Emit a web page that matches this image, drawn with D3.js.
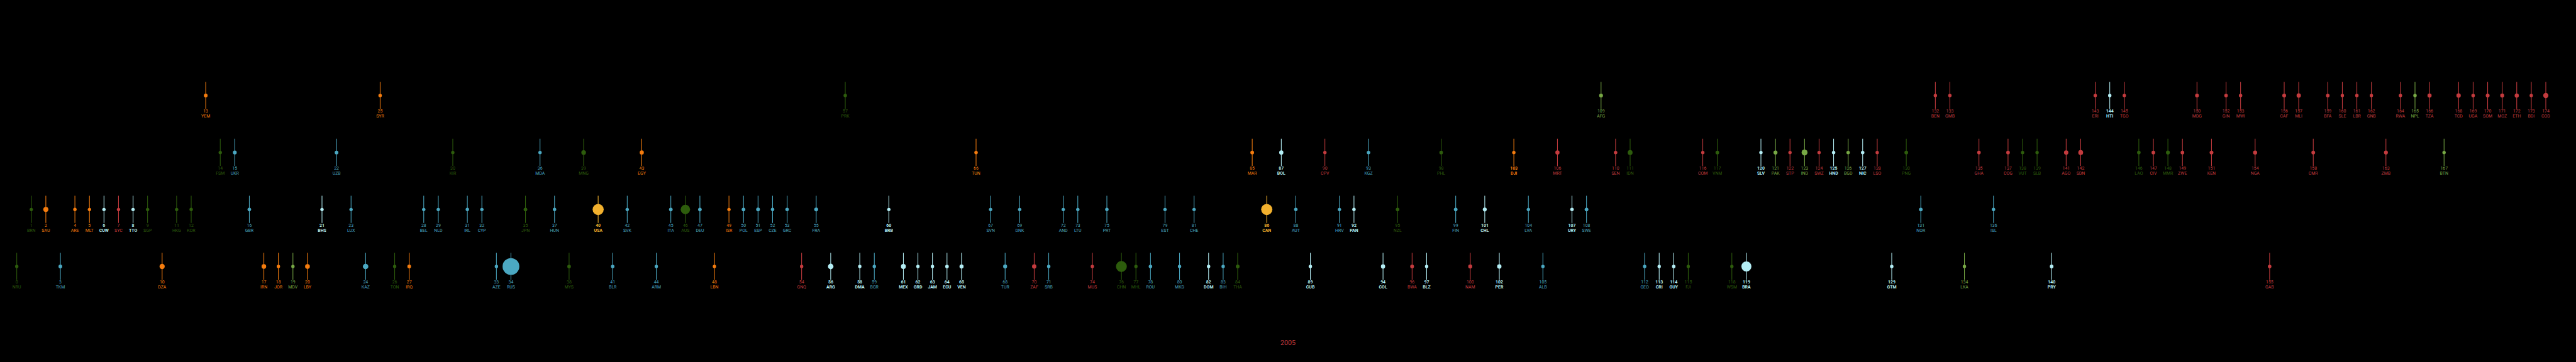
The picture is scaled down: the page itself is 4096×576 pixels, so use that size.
<!DOCTYPE html>
<html>
<head>
<meta charset="utf-8">
<script src="https://cdn.jsdelivr.net/npm/d3@7/dist/d3.min.js"></script>
<style>
  html, body { margin: 0; padding: 0; background: #000; }
  svg { display: block; }
</style>
</head>
<body>
<script>
// ---- DATA (index in arrays = rank label) ----
const codes = ["NRU","BRN","SAU","TKM","ARE","MLT","CUW","SYC","TTO","SGP",
  "DZA","HKG","KOR","YEM","FSM","UKR","GBR","IRN","JOR","MDV",
  "LBY","BHS","UZB","LUX","KAZ","SYR","TON","IRQ","BEL","NLD",
  "KIR","IRL","CYP","AZE","RUS","JPN","MDA","HUN","MYS","MNG",
  "USA","BLR","SVK","EGY","ARM","ITA","AUS","DEU","LBN","ISR",
  "POL","ESP","CZE","GRC","GNQ","FRA","ARG","PRK","DMA","BGR",
  "BRB","MEX","GRD","JAM","ECU","VEN","TUN","SVN","TUR","DNK",
  "ZAF","SRB","AND","LTU","MUS","PRT","CHN","MHL","ROU","EST",
  "MKD","CHE","DOM","BIH","THA","MAR","CAN","BOL","AUT","CUB",
  "CPV","HRV","PAN","KGZ","COL","NZL","BWA","BLZ","PHL","FIN",
  "NAM","CHL","PER","DJI","LVA","ALB","MRT","URY","SWE","AFG",
  "SEN","IDN","GEO","CRI","GUY","FJI","COM","VNM","WSM","BRA",
  "SLV","PAK","STP","IND","SWZ","HND","BGD","NIC","LSO","GTM",
  "PNG","NOR","BEN","GMB","LKA","GHA","ISL","COG","VUT","SLB",
  "PRY","AGO","SDN","ERI","HTI","TGO","LAO","CIV","MMR","ZWE",
  "MDG","KEN","GIN","MWI","NGA","GAB","CAF","MLI","CMR","BFA",
  "SLE","LBR","GNB","ZMB","RWA","NPL","TZA","BTN","TCD","UGA",
  "SOM","MOZ","ETH","BDI","COD"];

// income group: L = low, LM = lower middle, H = high, UM = upper middle
const incomes = ["UM","H","H","UM","H","H","H","H","H","H",
  "UM","H","H","L","LM","LM","H","UM","UM","UM",
  "UM","H","LM","H","UM","L","UM","UM","H","H",
  "LM","H","H","UM","UM","H","LM","H","UM","LM",
  "H","UM","H","LM","UM","H","H","H","UM","H",
  "H","H","H","H","UM","H","UM","L","UM","UM",
  "H","UM","UM","UM","UM","UM","LM","H","UM","H",
  "UM","UM","H","H","UM","H","UM","UM","UM","H",
  "UM","H","UM","UM","UM","LM","H","LM","H","UM",
  "LM","H","H","LM","UM","H","UM","UM","LM","H",
  "UM","H","UM","LM","H","UM","LM","H","H","L",
  "LM","LM","UM","UM","UM","UM","LM","LM","UM","UM",
  "LM","LM","LM","LM","LM","LM","LM","LM","LM","UM",
  "LM","H","L","L","UM","LM","H","LM","LM","LM",
  "UM","LM","LM","L","L","L","LM","LM","LM","LM",
  "L","LM","L","L","LM","UM","L","L","LM","L",
  "L","L","L","LM","L","L","L","LM","L","L",
  "L","L","L","L","L"];

// region: EAP, MNA, LAC, SSA, ECA, SAS, NAC
const regions = ["EAP","EAP","MNA","ECA","MNA","MNA","LAC","SSA","LAC","EAP",
  "MNA","EAP","EAP","MNA","EAP","ECA","ECA","MNA","MNA","SAS",
  "MNA","LAC","ECA","ECA","ECA","MNA","EAP","MNA","ECA","ECA",
  "EAP","ECA","ECA","ECA","ECA","EAP","ECA","ECA","EAP","EAP",
  "NAC","ECA","ECA","MNA","ECA","ECA","EAP","ECA","MNA","MNA",
  "ECA","ECA","ECA","ECA","SSA","ECA","LAC","EAP","LAC","ECA",
  "LAC","LAC","LAC","LAC","LAC","LAC","MNA","ECA","ECA","ECA",
  "SSA","ECA","ECA","ECA","SSA","ECA","EAP","EAP","ECA","ECA",
  "ECA","ECA","LAC","ECA","EAP","MNA","NAC","LAC","ECA","LAC",
  "SSA","ECA","LAC","ECA","LAC","EAP","SSA","LAC","EAP","ECA",
  "SSA","LAC","LAC","MNA","ECA","ECA","SSA","LAC","ECA","SAS",
  "SSA","EAP","ECA","LAC","LAC","EAP","SSA","EAP","EAP","LAC",
  "LAC","SAS","SSA","SAS","SSA","LAC","SAS","LAC","SSA","LAC",
  "EAP","ECA","SSA","SSA","SAS","SSA","ECA","SSA","EAP","EAP",
  "LAC","SSA","SSA","SSA","LAC","SSA","EAP","SSA","EAP","SSA",
  "SSA","SSA","SSA","SSA","SSA","SSA","SSA","SSA","SSA","SSA",
  "SSA","SSA","SSA","SSA","SSA","SAS","SSA","SAS","SSA","SSA",
  "SSA","SSA","SSA","SSA","SSA"];

// land area, million km²
const areas = [0.00002,0.0058,2.15,0.488,0.084,0.0003,0.0004,0.0005,0.0051,0.0007,
  2.382,0.0011,0.100,0.528,0.0007,0.604,0.244,1.648,0.089,0.0003,
  1.760,0.0139,0.449,0.0026,2.725,0.185,0.0008,0.438,0.0305,0.0415,
  0.0008,0.070,0.0093,0.0866,17.10,0.378,0.0338,0.093,0.330,1.564,
  9.83,0.208,0.049,1.010,0.0297,0.301,7.69,0.357,0.0104,0.022,
  0.313,0.506,0.079,0.132,0.028,0.644,2.780,0.1205,0.0008,0.111,
  0.0004,1.964,0.0003,0.011,0.284,0.916,0.164,0.0203,0.784,0.043,
  1.221,0.0775,0.0005,0.065,0.002,0.092,9.60,0.0002,0.238,0.045,
  0.0257,0.041,0.0487,0.051,0.513,0.447,9.98,1.099,0.084,0.110,
  0.004,0.0566,0.0754,0.200,1.142,0.268,0.582,0.023,0.300,0.338,
  0.824,0.756,1.285,0.0232,0.065,0.0287,1.031,0.176,0.450,0.653,
  0.197,1.905,0.070,0.051,0.215,0.0183,0.0022,0.331,0.0028,8.516,
  0.021,0.796,0.001,3.287,0.0174,0.1125,0.148,0.130,0.030,0.109,
  0.463,0.385,0.115,0.0113,0.0656,0.2385,0.103,0.342,0.0122,0.0289,
  0.407,1.247,1.886,0.118,0.028,0.057,0.237,0.3225,0.677,0.391,
  0.587,0.580,0.246,0.1185,0.924,0.268,0.623,1.240,0.475,0.274,
  0.072,0.111,0.036,0.753,0.026,0.147,0.947,0.038,1.284,0.2415,
  0.638,0.802,1.104,0.028,2.345];

const yearLabel = "2005";
const incomeRows = ["L","LM","H","UM"];

// ---- STYLES ----
const regionColor = {
  EAP: "#2d5c0c", MNA: "#f47c0e", LAC: "#b4eef5", SSA: "#c43b3e",
  ECA: "#4ba8c2", SAS: "#77a845", NAC: "#f3b12e"
};
const boldRegions = new Set(["LAC","NAC"]);
const boldCodes = new Set(["DJI"]);
const isBold = d => boldRegions.has(d.region) || boldCodes.has(d.code);

const W = 4096, H = 576, k = 4096 / 7680;

const data = codes.map((c, i) => ({
  rank: i, code: c, income: incomes[i], region: regions[i], area: areas[i]
}));

const svg = d3.select("body").append("svg")
  .attr("width", W).attr("height", H)
  .style("background", "#000");

const x = d3.scalePoint().domain(d3.range(codes.length)).range([50 * k, 7590 * k]);
const y = d3.scalePoint().domain(incomeRows).range([285 * k, 795 * k]);
const r = d3.scaleLinear().domain([0, 17.1]).range([5 * k, 25 * k]);

const g = svg.append("g").selectAll("g.item").data(data).join("g")
  .attr("class", "item")
  .attr("transform", d => `translate(${x(d.rank)},${y(d.income)})`);

g.append("line")
  .attr("x1", 0).attr("x2", 0)
  .attr("y1", -41 * k).attr("y2", 40 * k)
  .attr("stroke", d => regionColor[d.region])
  .attr("stroke-width", 2 * k);

g.append("circle")
  .attr("r", d => r(d.area))
  .attr("fill", d => regionColor[d.region]);

g.append("text")
  .attr("y", 51 * k)
  .attr("text-anchor", "middle")
  .attr("font-family", "Roboto, 'Liberation Sans', sans-serif")
  .attr("font-size", 13 * k)
  .attr("font-weight", d => isBold(d) ? "bold" : "normal")
  .attr("fill", d => regionColor[d.region])
  .text(d => d.rank);

g.append("text")
  .attr("y", 66 * k)
  .attr("text-anchor", "middle")
  .attr("font-family", "Roboto, 'Liberation Sans', sans-serif")
  .attr("font-size", 13 * k)
  .attr("font-weight", d => isBold(d) ? "bold" : "normal")
  .attr("fill", d => regionColor[d.region])
  .text(d => d.code);

svg.append("text")
  .attr("x", 3840 * k).attr("y", 1030 * k)
  .attr("text-anchor", "middle")
  .attr("font-family", "Roboto, 'Liberation Sans', sans-serif")
  .attr("font-size", 20 * k)
  .attr("fill", "#c43b3e")
  .text(yearLabel);
</script>
</body>
</html>
